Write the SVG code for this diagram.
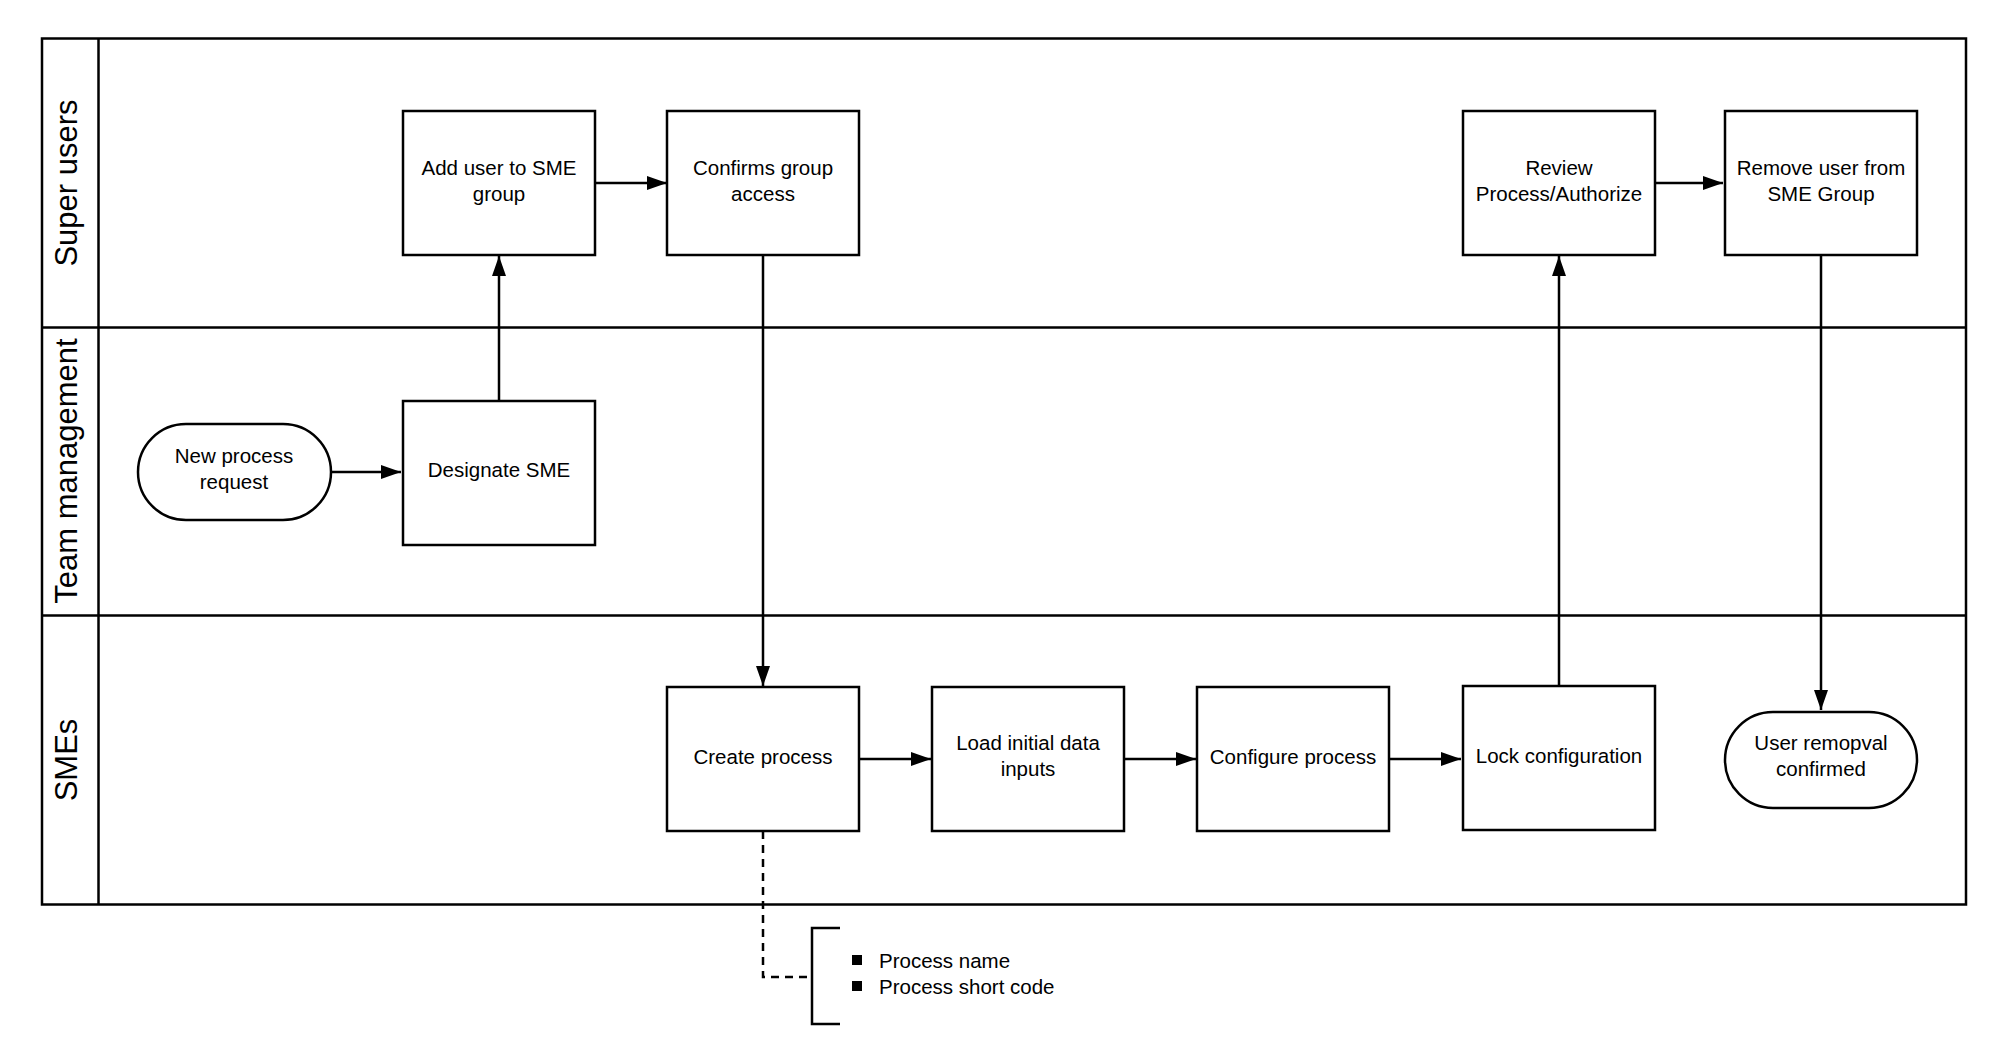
<svg xmlns="http://www.w3.org/2000/svg" width="1996" height="1054" viewBox="0 0 1996 1054">
<style>
.ln{fill:none;stroke:#000;stroke-width:2.5}
.bx{fill:#fff;stroke:#000;stroke-width:2.5}
.t{font-family:"Liberation Sans",Arial,sans-serif;font-size:20.5px;text-anchor:middle;fill:#000}
.lane{font-family:"Liberation Sans",Arial,sans-serif;font-size:31px;text-anchor:middle;fill:#000}
.c{fill:none;stroke:#000;stroke-width:2.5;marker-end:url(#ah)}
</style>
<defs><marker id="ah" viewBox="0 0 20 14" refX="20" refY="7" markerWidth="20" markerHeight="14" markerUnits="userSpaceOnUse" orient="auto"><path d="M0,0 L20,7 L0,14 Z" fill="#000"/></marker></defs>
<rect width="1996" height="1054" fill="#fff"/>
<g id="lanes">
<rect class="ln" x="42" y="38.5" width="1924" height="866"/>
<line class="ln" x1="98.5" y1="38.5" x2="98.5" y2="904.5"/>
<line class="ln" x1="42" y1="327.5" x2="1966" y2="327.5"/>
<line class="ln" x1="42" y1="615.5" x2="1966" y2="615.5"/>
<text class="lane" transform="translate(77,183) rotate(-90)">Super users</text>
<text class="lane" transform="translate(77,471) rotate(-90)">Team management</text>
<text class="lane" transform="translate(77,760) rotate(-90)">SMEs</text>
</g>
<g id="connectors">
<line class="c" x1="595" y1="183" x2="667" y2="183"/>
<line class="c" x1="499" y1="401" x2="499" y2="256"/>
<line class="c" x1="331" y1="472" x2="401" y2="472"/>
<line class="c" x1="763" y1="256" x2="763" y2="686"/>
<line class="c" x1="859" y1="759" x2="931" y2="759"/>
<line class="c" x1="1124" y1="759" x2="1196" y2="759"/>
<line class="c" x1="1389" y1="759" x2="1461" y2="759"/>
<line class="c" x1="1559" y1="686" x2="1559" y2="256"/>
<line class="c" x1="1655" y1="183" x2="1723" y2="183"/>
<line class="c" x1="1821" y1="256" x2="1821" y2="710"/>
<path d="M763,831 V977 H812" fill="none" stroke="#000" stroke-width="2.5" stroke-dasharray="8,6"/>
</g>
<g id="n1"><rect class="bx" x="403" y="111" width="192" height="144"/><text class="t" x="499" y="175">Add user to SME</text><text class="t" x="499" y="201">group</text></g>
<g id="n2"><rect class="bx" x="667" y="111" width="192" height="144"/><text class="t" x="763" y="175">Confirms group</text><text class="t" x="763" y="201">access</text></g>
<g id="n3"><rect class="bx" x="1463" y="111" width="192" height="144"/><text class="t" x="1559" y="175">Review</text><text class="t" x="1559" y="201">Process/Authorize</text></g>
<g id="n4"><rect class="bx" x="1725" y="111" width="192" height="144"/><text class="t" x="1821" y="175">Remove user from</text><text class="t" x="1821" y="201">SME Group</text></g>
<g id="n5"><rect class="bx" x="138" y="424" width="193" height="96" rx="48"/><text class="t" x="234" y="463">New process</text><text class="t" x="234" y="489">request</text></g>
<g id="n6"><rect class="bx" x="403" y="401" width="192" height="144"/><text class="t" x="499" y="477">Designate SME</text></g>
<g id="n7"><rect class="bx" x="667" y="687" width="192" height="144"/><text class="t" x="763" y="764">Create process</text></g>
<g id="n8"><rect class="bx" x="932" y="687" width="192" height="144"/><text class="t" x="1028" y="750">Load initial data</text><text class="t" x="1028" y="776">inputs</text></g>
<g id="n9"><rect class="bx" x="1197" y="687" width="192" height="144"/><text class="t" x="1293" y="764">Configure process</text></g>
<g id="n10"><rect class="bx" x="1463" y="686" width="192" height="144"/><text class="t" x="1559" y="763">Lock configuration</text></g>
<g id="n11"><rect class="bx" x="1725" y="712" width="192" height="96" rx="48"/><text class="t" x="1821" y="750">User remopval</text><text class="t" x="1821" y="776">confirmed</text></g>
<g id="note">
<path d="M840,928 H812 V1024 H840" class="ln"/>
<rect x="852" y="955" width="10" height="10" fill="#000"/>
<rect x="852" y="981" width="10" height="10" fill="#000"/>
<text class="t" style="text-anchor:start" x="879" y="968">Process name</text>
<text class="t" style="text-anchor:start" x="879" y="994">Process short code</text>
</g>
</svg>
